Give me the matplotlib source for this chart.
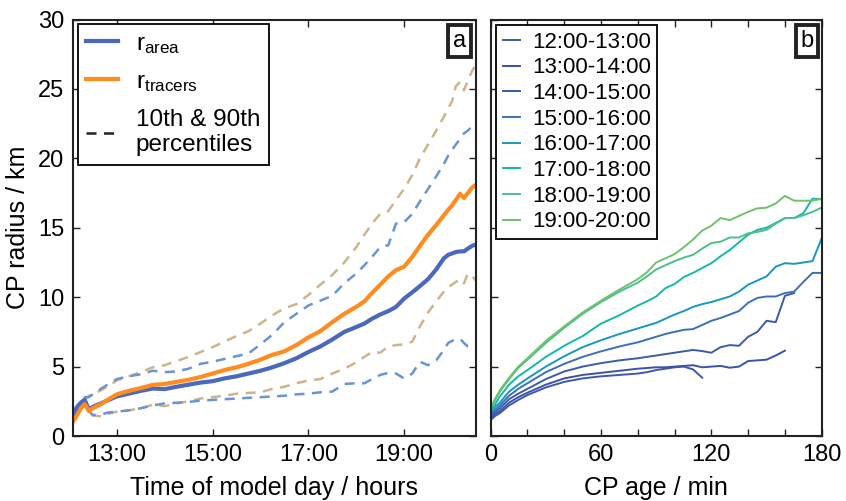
import numpy as np
import matplotlib
matplotlib.use("Agg")
import matplotlib.pyplot as plt
from matplotlib.ticker import MultipleLocator, FixedLocator

plt.rcParams['font.family'] = ['Liberation Sans', 'DejaVu Sans']
plt.rcParams['mathtext.fontset'] = 'custom'
plt.rcParams['mathtext.rm'] = 'Liberation Sans'

# ---- panel a: radius vs time of day (hours) ----
hours = [12.08, 12.17, 12.25, 12.33, 12.42, 12.5, 12.67, 12.83, 13.0, 13.25, 13.5, 13.75,
         14.0, 14.25, 14.5, 14.75, 15.0, 15.25, 15.5, 15.75, 16.0, 16.25, 16.5, 16.75,
         17.0, 17.25, 17.5, 17.75, 18.0, 18.17, 18.33, 18.5, 18.67, 18.83, 19.0, 19.17,
         19.33, 19.5, 19.67, 19.83, 19.92, 20.0, 20.08, 20.17, 20.25, 20.33, 20.42, 20.5]

r_area = [1.5, 2.0, 2.4, 2.6, 1.9, 2.1, 2.35, 2.6, 2.85, 3.05, 3.25, 3.42,
          3.38, 3.55, 3.7, 3.85, 3.95, 4.15, 4.3, 4.5, 4.7, 4.95, 5.25, 5.6,
          6.05, 6.45, 6.95, 7.5, 7.85, 8.1, 8.45, 8.75, 9.0, 9.3, 9.9, 10.35,
          10.8, 11.3, 12.0, 12.8, 13.05, 13.15, 13.25, 13.3, 13.3, 13.5, 13.7, 13.8]

r_tracers = [1.0, 1.5, 2.0, 2.3, 1.8, 2.0, 2.3, 2.65, 3.0, 3.25, 3.45, 3.68,
             3.75, 3.9, 4.05, 4.25, 4.5, 4.75, 4.95, 5.2, 5.5, 5.85, 6.1, 6.55,
             7.1, 7.55, 8.2, 8.8, 9.3, 9.7, 10.3, 10.9, 11.5, 11.95, 12.2, 12.9,
             13.7, 14.5, 15.2, 15.9, 16.3, 16.6, 17.0, 17.45, 17.15, 17.5, 17.9, 18.1]

area_p90 = [1.8, 2.2, 2.5, 2.8, 2.8, 3.0, 3.4, 3.75, 4.1, 4.3, 4.45, 4.7,
            4.6, 4.65, 4.85, 5.2, 5.35, 5.55, 5.75, 5.95, 6.6, 7.3, 8.2, 8.8,
            9.4, 9.75, 10.1, 11.0, 11.7, 12.3, 12.9, 13.6, 13.75, 15.3, 15.4, 16.0,
            16.9, 17.8, 18.7, 19.6, 20.2, 20.6, 21.0, 21.4, 21.8, 22.0, 22.3, 22.6]

area_p10 = [1.3, 1.9, 2.4, 2.7, 1.8, 1.5, 1.55, 1.7, 1.75, 1.85, 2.0, 2.2,
            2.35, 2.4, 2.45, 2.55, 2.6, 2.65, 2.7, 2.75, 2.8, 2.85, 2.9, 3.0,
            3.05, 3.15, 3.2, 3.75, 3.8, 3.8, 4.1, 4.4, 4.55, 4.5, 4.15, 4.5,
            5.35, 5.1, 5.45, 6.2, 6.7, 6.85, 6.95, 7.0, 6.7, 6.45, 6.4, 6.3]

tracers_p90 = [1.5, 2.0, 2.4, 2.6, 2.9, 3.0, 3.3, 3.6, 4.0, 4.3, 4.6, 4.95,
               5.1, 5.4, 5.7, 6.05, 6.4, 6.8, 7.2, 7.55, 8.1, 8.7, 9.2, 9.5,
               10.15, 10.9, 11.6, 12.5, 13.6, 14.5, 15.3, 16.0, 16.2, 17.0, 17.8, 18.8,
               20.0, 21.0, 22.0, 23.0, 23.6, 24.1, 25.2, 25.5, 24.9, 25.6, 26.3, 26.8]

tracers_p10 = [1.2, 1.8, 2.2, 2.45, 2.0, 1.5, 1.4, 1.6, 1.75, 1.85, 2.0, 2.25,
               2.15, 2.35, 2.5, 2.7, 2.8, 2.9, 3.05, 3.1, 3.15, 3.4, 3.55, 3.8,
               4.0, 4.1, 4.5, 4.85, 5.3, 5.7, 6.05, 6.0, 6.45, 6.55, 6.6, 6.8,
               7.9, 8.9, 9.7, 10.4, 10.75, 10.9, 11.1, 11.3, 11.0, 11.7, 11.5, 11.2]

hour_ticks = [13, 15, 17, 19]
hour_labels = ['13:00', '15:00', '17:00', '19:00']

# ---- panel b: radius vs CP age, one curve per start hour ----
age = [0, 2.5, 5, 10, 15, 20, 30, 40, 50, 60, 70, 80, 85, 90, 95, 100, 105, 110,
       115, 120, 125, 130, 135, 140, 145, 150, 155, 160, 165, 170, 175, 180]
nan = np.nan
radius_by_hour = [
    [1.15, 1.45, 1.65, 2.2, 2.6, 2.95, 3.5, 3.9, 4.15, 4.3, 4.4, 4.5, 4.6, 4.75, 4.85, 4.95, 5.0, 4.8,
     4.2, nan, nan, nan, nan, nan, nan, nan, nan, nan, nan, nan, nan, nan],
    [1.3, 1.6, 1.8, 2.4, 2.8, 3.12, 3.7, 4.15, 4.4, 4.55, 4.7, 4.85, 4.9, 4.95, 4.95, 5.0, 5.05, 5.1,
     4.95, 5.0, 5.05, 4.92, 5.0, 5.4, 5.45, 5.5, 5.8, 6.15, nan, nan, nan, nan],
    [1.45, 1.75, 2.0, 2.65, 3.05, 3.4, 4.1, 4.65, 5.0, 5.25, 5.45, 5.6, 5.7, 5.8, 5.9, 6.0, 6.1, 6.2,
     6.12, 6.0, 6.4, 6.55, 6.5, 7.15, 7.5, 8.3, 8.2, 10.1, 10.3, nan, nan, nan],
    [1.6, 1.9, 2.2, 2.9, 3.4, 3.8, 4.6, 5.2, 5.7, 6.1, 6.45, 6.75, 6.95, 7.15, 7.35, 7.5, 7.65, 7.7,
     8.0, 8.3, 8.5, 8.75, 9.0, 9.6, 9.95, 10.05, 10.05, 10.3, 10.4, 11.1, 11.75, 11.75],
    [1.75, 2.1, 2.4, 3.2, 3.7, 4.15, 5.0, 5.75, 6.4, 6.9, 7.35, 7.75, 7.95, 8.15, 8.45, 8.75, 9.0, 9.3,
     9.5, 9.65, 9.85, 10.05, 10.4, 10.9, 11.2, 11.5, 12.2, 12.45, 12.4, 12.5, 12.6, 14.25],
    [1.85, 2.3, 2.85, 3.7, 4.3, 4.75, 5.7, 6.5, 7.2, 8.1, 8.7, 9.4, 9.7, 10.05, 10.65, 10.95, 11.45, 11.75,
     12.1, 12.45, 12.95, 13.4, 13.95, 14.5, 14.85, 15.0, 15.35, 15.7, 15.7, 16.05, 17.1, 17.05],
    [2.0, 2.6, 3.2, 4.1, 4.9, 5.5, 6.7, 7.8, 8.8, 9.65, 10.4, 11.05, 11.5, 12.0, 12.3, 12.6, 12.85, 13.05,
     13.5, 13.9, 14.0, 14.3, 14.3, 14.6, 14.7, 14.85, 15.3, 15.7, 15.7, 15.9, 16.15, 16.45],
    [2.1, 2.7, 3.3, 4.2, 5.0, 5.6, 6.85, 7.9, 8.9, 9.75, 10.55, 11.3, 11.8, 12.5, 12.8, 13.1, 13.6, 14.15,
     14.8, 15.15, 15.7, 15.55, 15.85, 16.15, 16.4, 16.45, 16.75, 17.3, 16.95, 16.95, 16.95, 17.1],
]
hour_windows = ['12:00-13:00', '13:00-14:00', '14:00-15:00', '15:00-16:00',
                '16:00-17:00', '17:00-18:00', '18:00-19:00', '19:00-20:00']
window_colors = ['#4257a9', '#3b53a6', '#3c5ca9', '#3c70b6',
                 '#1897c2', '#14b9a9', '#4cc08a', '#6dc36b']

fig = plt.figure(figsize=(8.46, 5.01), dpi=100)
ax1 = fig.add_axes([0.0859, 0.1297, 0.4767, 0.8313])
ax2 = fig.add_axes([0.58, 0.1297, 0.3913, 0.8313])

dash = (4, 3)
ax1.plot(hours, tracers_p90, color='#cdb48c', lw=1.8, dashes=dash)
ax1.plot(hours, tracers_p10, color='#cdb48c', lw=1.8, dashes=dash)
ax1.plot(hours, area_p90, color='#6a94d6', lw=1.8, dashes=dash)
ax1.plot(hours, area_p10, color='#6a94d6', lw=1.8, dashes=dash)
l_area, = ax1.plot(hours, r_area, color='#4a69bd', lw=3.0)
l_tr, = ax1.plot(hours, r_tracers, color='#ff8c1e', lw=3.0)
l_pc, = ax1.plot([], [], color='#222222', lw=1.8, dashes=dash)

leg1 = ax1.legend([l_area, l_tr, l_pc],
                  [r'$\mathregular{r_{area}}$', r'$\mathregular{r_{tracers}}$', '10th & 90th\npercentiles'],
                  loc='upper left', fontsize=17.5, handlelength=1.3, handletextpad=0.75,
                  borderpad=0.35, labelspacing=0.62, borderaxespad=0.2,
                  fancybox=False, framealpha=1)
leg1.get_frame().set_edgecolor('black')
leg1.get_frame().set_linewidth(1.3)

ax1.set_xlim(12.08, 20.5)
ax1.set_ylim(0, 30)
ax1.xaxis.set_major_locator(FixedLocator(hour_ticks))
ax1.set_xticklabels(hour_labels)
ax1.set_xlabel('Time of model day / hours', fontsize=18, labelpad=7)
ax1.set_ylabel('CP radius / km', fontsize=18, labelpad=6)

for col, lab, vals in zip(window_colors, hour_windows, radius_by_hour):
    ax2.plot(age, vals, color=col, lw=1.4, label=lab)

leg2 = ax2.legend(loc='upper left', fontsize=16, handlelength=0.75, handletextpad=0.55,
                  borderpad=0.3, labelspacing=0.21, borderaxespad=0.25,
                  fancybox=False, framealpha=1)
leg2.get_frame().set_edgecolor('black')
leg2.get_frame().set_linewidth(1.3)

ax2.set_xlim(0, 180)
ax2.set_ylim(0, 30)
ax2.xaxis.set_major_locator(FixedLocator([0, 60, 120, 180]))
ax2.xaxis.set_minor_locator(MultipleLocator(20))
ax2.set_xlabel('CP age / min', fontsize=18, labelpad=7)

for ax, letter in [(ax1, 'a'), (ax2, 'b')]:
    ax.yaxis.set_major_locator(MultipleLocator(5))
    ax.tick_params(which='both', direction='in', top=True, right=True,
                   length=5, width=1.0, labelsize=17, pad=6, color='#222222')
    for s in ax.spines.values():
        s.set_linewidth(1.5)
        s.set_color('#222222')
    ax.text(0.975, 0.975, letter, transform=ax.transAxes, ha='right', va='top',
            fontsize=17, bbox=dict(boxstyle='square,pad=0.2', fc='white',
                                   ec='#222222', lw=2.8))
ax2.tick_params(axis='y', labelleft=False)

fig.savefig('out.png', dpi=100)
